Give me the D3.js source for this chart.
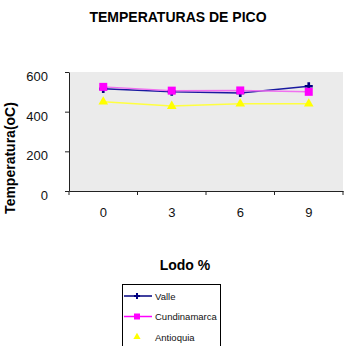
<html>
<head>
<script src="https://cdn.jsdelivr.net/npm/d3@7"></script>
<style>
  body { margin: 0; background: #fff; }
  text { font-family: "Liberation Sans", Arial, sans-serif; }
</style>
</head>
<body>
<svg id="svg" width="352" height="346"></svg>
<script>
const categories = ["0", "3", "6", "9"];
const yTicks = [0, 200, 400, 600];
const seriesNames = ["Valle", "Cundinamarca", "Antioquia"];
const valle = [515, 500, 494, 528];
const cundinamarca = [525, 506, 507, 500];
const antioquia = [450, 428, 440, 440];

const colors = ["#00007f", "#ff00ff", "#ffff00"];
const lineColors = ["#1a1aa0", "#f070f0", "#ffff40"];
const series = [valle, cundinamarca, antioquia];

const svg = d3.select("#svg");
const pLeft = 69, pRight = 343, pTop = 72, pBottom = 191;

const x = d3.scaleBand().domain(categories).range([pLeft, pRight]);
const y = d3.scaleLinear().domain([0, 600]).range([pBottom, pTop]);

svg.append("rect")
  .attr("x", pLeft).attr("y", pTop)
  .attr("width", pRight - pLeft).attr("height", pBottom - pTop)
  .attr("fill", "#ebebeb");

// axes
let ya = svg.append("g").attr("transform", `translate(${pLeft},0)`)
  .call(d3.axisLeft(y).tickValues(yTicks).tickSize(4).tickSizeOuter(0));
ya.select(".domain").attr("stroke", "#222");
ya.selectAll("line").attr("stroke", "#222");
ya.selectAll("text").attr("font-size", 13).attr("fill", "#111")
  .attr("x", -21).attr("dy", "0.65em");

let xa = svg.append("g").attr("transform", `translate(0,${pBottom})`)
  .call(d3.axisBottom(x).tickSize(0).tickSizeOuter(0));
xa.select(".domain").attr("stroke", "#222");
xa.selectAll("text").attr("font-size", 13).attr("fill", "#111").attr("y", 17);
xa.selectAll(".sep").data(d3.range(categories.length + 1)).enter()
  .append("line").attr("class", "sep")
  .attr("x1", i => pLeft + i * x.step()).attr("x2", i => pLeft + i * x.step())
  .attr("y1", 0).attr("y2", 4).attr("stroke", "#222");

// series
const cx = c => x(c) + x.bandwidth() / 2;
series.forEach((vals, s) => {
  const pts = vals.map((v, i) => [cx(categories[i]), y(v)]);
  svg.append("path")
    .attr("d", d3.line()(pts))
    .attr("fill", "none")
    .attr("stroke", lineColors[s])
    .attr("stroke-width", 1.5);
});

function marker(g, s, px, py, k) {
  if (s === 0) {
    g.append("path").attr("d", d3.symbol(d3.symbolCross, 36 * k * k)())
      .attr("transform", `translate(${px},${py})`).attr("fill", colors[0]);
  } else if (s === 1) {
    const h = 4 * k;
    g.append("rect").attr("x", px - h).attr("y", py - h)
      .attr("width", 2 * h).attr("height", 2 * h).attr("fill", colors[1]);
  } else {
    g.append("path").attr("d", d3.symbol(d3.symbolTriangle, 40 * k * k)())
      .attr("transform", `translate(${px},${py})`).attr("fill", colors[2]);
  }
}
const mk = svg.append("g");
series.forEach((vals, s) => {
  vals.forEach((v, i) => marker(mk, s, cx(categories[i]), y(v), 1));
});

// titles
svg.append("text").attr("x", 178).attr("y", 22).attr("text-anchor", "middle")
  .attr("font-size", 14).attr("font-weight", "bold").text("TEMPERATURAS DE PICO");
svg.append("text").attr("transform", "translate(15,158) rotate(-90)")
  .attr("text-anchor", "middle").attr("font-size", 14).attr("font-weight", "bold")
  .text("Temperatura(oC)");
svg.append("text").attr("x", 185).attr("y", 270).attr("text-anchor", "middle")
  .attr("font-size", 14).attr("font-weight", "bold").text("Lodo %");

// legend
svg.append("rect").attr("x", 122.5).attr("y", 284.5).attr("width", 98).attr("height", 70)
  .attr("fill", "#fff").attr("stroke", "#000");
const ly = d3.scalePoint().domain(seriesNames).range([296, 337]);
seriesNames.forEach((n, s) => {
  const yy = ly(n);
  if (s < 2) svg.append("line").attr("x1", 124).attr("x2", 152).attr("y1", yy).attr("y2", yy)
    .attr("stroke", colors[s]).attr("stroke-width", 1.5);
  marker(svg, s, 137, yy, 0.75);
  svg.append("text").attr("x", 155).attr("y", yy + 3.5).attr("font-size", 9.5)
    .attr("fill", "#111").text(n);
});
</script>
</body>
</html>
